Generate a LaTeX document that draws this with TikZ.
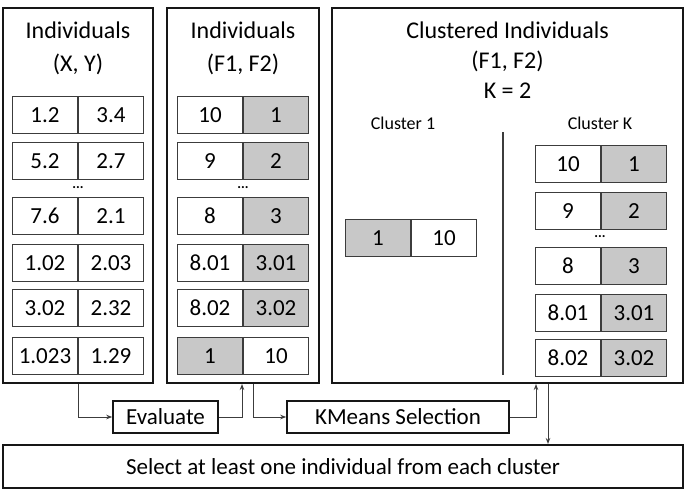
\documentclass[tikz,border=0pt]{standalone}
\usepackage{fontspec}
\setmainfont{Carlito}
\usetikzlibrary{arrows.meta,calc}
\definecolor{cellline}{HTML}{3C3C3C}
\definecolor{cellgray}{HTML}{C8C8C8}
\definecolor{panelline}{HTML}{161616}
\newcommand\cellrow[7]{%
  \node[cellbox,fill=#6,anchor=north west] (#1a) at (#2,#3) {#4};
  \node[cellbox,fill=#7,anchor=north west] (#1b) at (#1a.north east) {#5};}
\begin{document}
\begin{tikzpicture}[x=1pt,y=-1pt,
  panel/.style={draw=panelline,line width=2pt,inner sep=0pt},
  cellbox/.style={draw=cellline,line width=1pt,minimum width=65pt,minimum height=37pt,inner sep=0pt,
     font=\fontsize{23}{26}\selectfont},
  titletext/.style={align=center,font=\fontsize{24}{33}\selectfont},
  smalllabel/.style={font=\fontsize{18}{20}\selectfont},
  dotstext/.style={font=\fontsize{14}{14}\selectfont\bfseries,inner sep=0pt},
  stepbox/.style={draw=panelline,line width=1.6pt,inner sep=0pt,font=\fontsize{23}{26}\selectfont},
  flow/.style={draw=cellline,line width=1pt,-{Stealth[length=6pt,width=4.5pt]}}]
\useasboundingbox (0,0) rectangle (685,498);
% panels
\node[panel,minimum width=150pt,minimum height=375pt] (p1) at (78,195.5) {};
\node[panel,minimum width=152pt,minimum height=375pt] (p2) at (243,195.5) {};
\node[panel,minimum width=351pt,minimum height=375pt] (p3) at (507.5,195.5) {};
% titles
\node[titletext] (t1) at (78,48.5) {Individuals\\(X, Y)};
\node[titletext] (t2) at (243,48.5) {Individuals\\(F1, F2)};
\node[titletext,font=\fontsize{24}{30}\selectfont] (t3) at (507.5,60) {Clustered Individuals\\(F1, F2)\\K = 2};
% panel 1 rows
\cellrow{pa}{12}{96}{1.2}{3.4}{white}{white}
\cellrow{pb}{12}{142}{5.2}{2.7}{white}{white}
\node[dotstext] (pdots) at (78,188) {...};
\cellrow{pc}{12}{197}{7.6}{2.1}{white}{white}
\cellrow{pd}{12}{244}{1.02}{2.03}{white}{white}
\cellrow{pe}{12}{289}{3.02}{2.32}{white}{white}
\cellrow{pf}{12}{337}{1.023}{1.29}{white}{white}
% panel 2 rows
\cellrow{qa}{177}{96}{10}{1}{white}{cellgray}
\cellrow{qb}{177}{142}{9}{2}{white}{cellgray}
\node[dotstext] (qdots) at (243,188) {...};
\cellrow{qc}{177}{197}{8}{3}{white}{cellgray}
\cellrow{qd}{177}{244}{8.01}{3.01}{white}{cellgray}
\cellrow{qe}{177}{289}{8.02}{3.02}{white}{cellgray}
\cellrow{qf}{177}{337}{1}{10}{cellgray}{white}
% panel 3
\node[smalllabel] (c1) at (403,123) {Cluster 1};
\node[smalllabel] (ck) at (600,123) {Cluster K};
\coordinate (divtop) at (503,132);
\coordinate (divbot) at (503,375);
\draw[cellline,line width=1.4pt] (divtop) -- (divbot);
\cellrow{ra}{345}{219}{1}{10}{cellgray}{white}
\cellrow{sa}{535}{145}{10}{1}{white}{cellgray}
\cellrow{sb}{535}{192}{9}{2}{white}{cellgray}
\node[dotstext] (sdots) at (600,237) {...};
\cellrow{sc}{535}{247}{8}{3}{white}{cellgray}
\cellrow{sd}{535}{294}{8.01}{3.01}{white}{cellgray}
\cellrow{se}{535}{339}{8.02}{3.02}{white}{cellgray}
% bottom boxes
\node[stepbox,minimum width=105pt,minimum height=32pt] (eval) at (165.5,417) {Evaluate};
\node[stepbox,minimum width=222pt,minimum height=32pt] (km) at (398,417) {KMeans Selection};
\node[panel,minimum width=680pt,minimum height=43pt,font=\fontsize{23}{26}\selectfont] (bot) at (343,466.5) {Select at least one individual from each cluster};
% connectors
\draw[flow] (p1.south) |- (eval.west);
\draw[flow] (eval.east) -| ([xshift=-1pt]p2.south);
\draw[flow] ([xshift=10pt]p2.south) |- (km.west);
\draw[flow] (km.east) -| ([xshift=28.5pt]p3.south);
\draw[flow] ([xshift=40.5pt]p3.south) -- ([xshift=40.5pt]p3.south |- bot.north);
\end{tikzpicture}
\end{document}
